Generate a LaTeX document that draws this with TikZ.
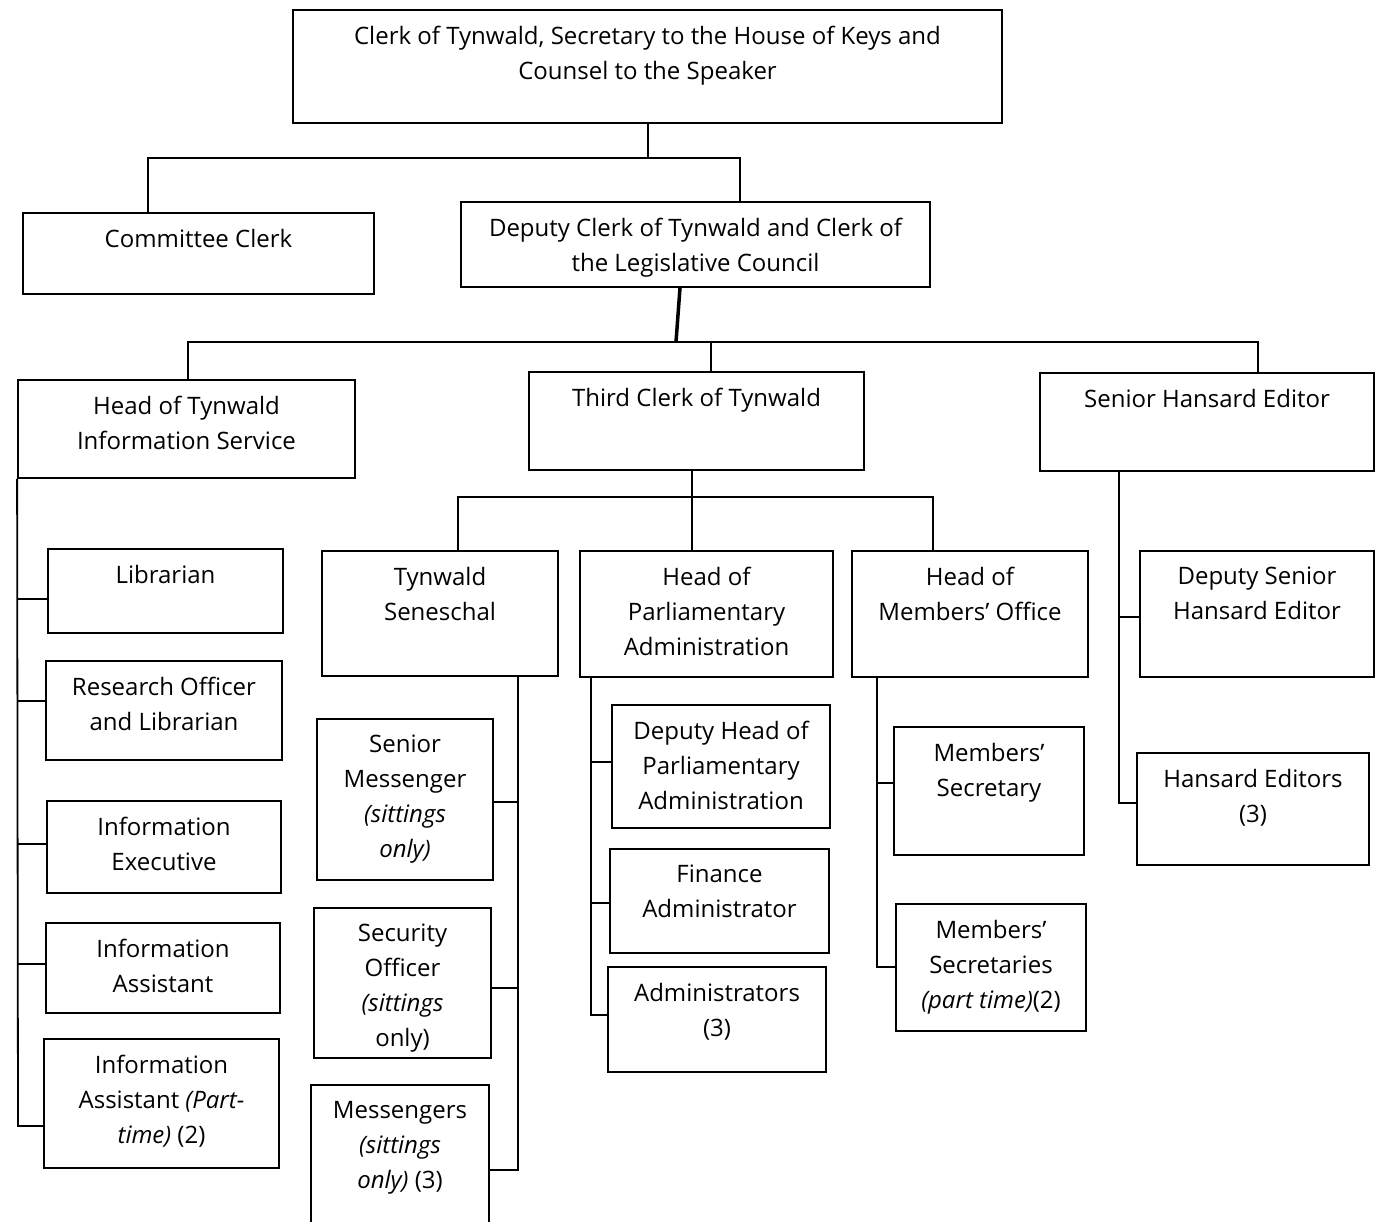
\documentclass[tikz,border=0pt]{standalone}
\usepackage{fontspec}
\setmainfont{Open Sans}
\usetikzlibrary{fit}
\newcommand\obox[6]{\node[box, fit={(#2,#3) (#4,#5)}] (#1) {};\node[txt] (#1t) at ([yshift=-17pt]#1.north) {#6};}
\begin{document}
\begin{tikzpicture}[x=1pt,y=-1pt,
 box/.style={draw, line width=1.8pt, inner sep=0pt, rectangle},
 txt/.style={anchor=north, align=center, inner sep=0pt, font=\fontsize{24}{35}\selectfont, execute at begin node={\rule{0pt}{18pt}}},
 con/.style={line width=1.8pt}]
\useasboundingbox[fill=white] (0,0) rectangle (1382,1222);
% boxes
\obox{clerk}{293}{10}{1002}{123}{Clerk of Tynwald, Secretary to the House of Keys and\\Counsel to the Speaker}
\obox{cc}{23}{213}{374}{294}{Committee Clerk}
\obox{dep}{461}{202}{930}{287}{Deputy Clerk of Tynwald and Clerk of\\the Legislative Council}
\obox{his}{18}{380}{355}{478}{Head of Tynwald\\Information Service}
\obox{tc}{529}{372}{864}{470}{Third Clerk of Tynwald}
\obox{she}{1040}{373}{1374}{471}{Senior Hansard Editor}
\obox{lib}{48}{549}{283}{633}{Librarian}
\obox{ro}{46}{661}{282}{760}{Research Officer\\and Librarian}
\obox{ie}{47}{801}{281}{893}{Information\\Executive}
\obox{ia}{46}{923}{280}{1013}{Information\\Assistant}
\obox{iap}{44}{1039}{279}{1168}{Information\\Assistant \textit{(Part-}\\\textit{time)} (2)}
\obox{ts}{322}{551}{558}{676}{Tynwald\\Seneschal}
\obox{hpa}{580}{551}{833}{677}{Head of\\Parliamentary\\Administration}
\obox{hmo}{852}{551}{1088}{677}{Head of\\Members' Office}
\obox{sm}{317}{719}{493}{880}{Senior\\Messenger\\\textit{(sittings}\\\textit{only)}}
\obox{so}{314}{908}{491}{1058}{Security\\Officer\\\textit{(sittings}\\only)}
\obox{msg}{311}{1085}{489}{1240}{Messengers\\\textit{(sittings}\\\textit{only)} (3)}
\obox{dh}{612}{705}{830}{828}{Deputy Head of\\Parliamentary\\Administration}
\obox{fa}{610}{849}{829}{953}{Finance\\Administrator}
\obox{adm}{608}{967}{826}{1072}{Administrators\\(3)}
\obox{ms}{894}{727}{1084}{855}{Members'\\Secretary}
\obox{mss}{896}{904}{1086}{1031}{Members'\\Secretaries\\\textit{(part time)}(2)}
\obox{dshe}{1140}{551}{1374}{677}{Deputy Senior\\Hansard Editor}
\obox{he}{1137}{753}{1369}{865}{Hansard Editors\\(3)}
% connectors
\draw[con] (clerk.south -| 648,0) -- (648,158);
\draw[con] (cc.north -| 148,0) -- (148,158) -- (740,158) -- (dep.north -| 740,0);
\draw[line width=3.5pt] (dep.south -| 680,0) -- (676,342);
\draw[con] (his.north -| 188,0) -- (188,342) -- (1258,342) -- (she.north -| 1258,0);
\draw[con] (711,342) -- (tc.north -| 711,0);
% information service
\draw[con] (his.south west) -- (18,1126) -- (iap.west |- 0,1126);
\draw[con] (18,599) -- (lib.west |- 0,599);
\draw[con] (18,701) -- (ro.west |- 0,701);
\draw[con] (18,844) -- (ie.west |- 0,844);
\draw[con] (18,964) -- (ia.west |- 0,964);
% third clerk
\draw[con] (tc.south -| 692,0) -- (692,497);
\draw[con] (ts.north -| 458,0) -- (458,497) -- (933,497) -- (hmo.north -| 933,0);
\draw[con] (692,497) -- (hpa.north -| 692,0);
% seneschal
\draw[con] (ts.south -| 518,0) -- (518,1170) -- (msg.east |- 0,1170);
\draw[con] (sm.east |- 0,802) -- (518,802);
\draw[con] (so.east |- 0,988) -- (518,988);
% parliamentary administration
\draw[con] (hpa.south -| 591,0) -- (591,1015) -- (adm.west |- 0,1015);
\draw[con] (591,762) -- (dh.west |- 0,762);
\draw[con] (591,903) -- (fa.west |- 0,903);
% members' office
\draw[con] (hmo.south -| 877,0) -- (877,967) -- (mss.west |- 0,967);
\draw[con] (877,783) -- (ms.west |- 0,783);
% hansard
\draw[con] (she.south -| 1119,0) -- (1119,803) -- (he.west |- 0,803);
\draw[con] (1119,617) -- (dshe.west |- 0,617);
\end{tikzpicture}
\end{document}
